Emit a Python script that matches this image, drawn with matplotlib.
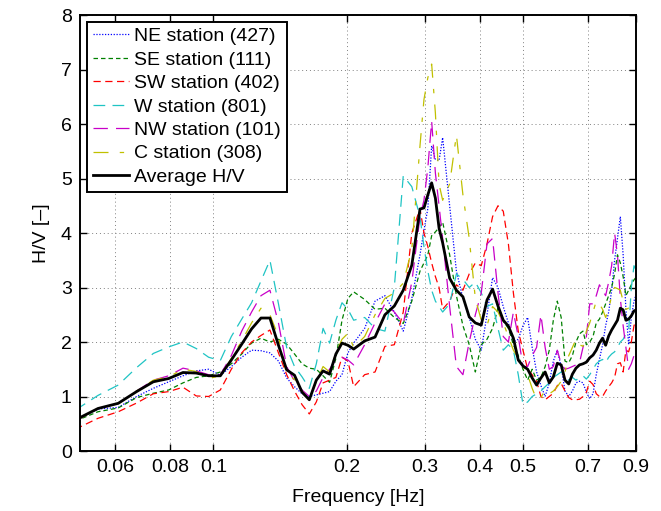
import matplotlib
matplotlib.use("Agg")
import matplotlib.pyplot as plt
from matplotlib.ticker import FixedLocator, NullLocator, FixedFormatter

plt.rcParams['font.family'] = ['Liberation Sans', 'DejaVu Sans']

# Frequency bins [Hz]
freq = [0.0488, 0.0549, 0.0610, 0.0671, 0.0732, 0.0793, 0.0854, 0.0915, 0.0976, 0.1037,
        0.1098, 0.1159, 0.1220, 0.1281, 0.1342, 0.1403, 0.1464, 0.1525, 0.1586, 0.1647,
        0.1708, 0.1769, 0.1830, 0.1891, 0.1952, 0.2013,
        0.2074, 0.2196, 0.2318, 0.2440, 0.2562, 0.2684, 0.2806, 0.2928,
        0.2989, 0.3050, 0.3111, 0.3172, 0.3233, 0.3294,
        0.3416, 0.3538, 0.3660, 0.3782, 0.3904, 0.4026, 0.4148, 0.4270, 0.4392, 0.4514,
        0.4636, 0.4758, 0.4880, 0.5002, 0.5124, 0.5246, 0.5368, 0.5490, 0.5612, 0.5734,
        0.5856, 0.5978, 0.6100, 0.6222, 0.6344, 0.6466, 0.6588, 0.6710, 0.6832, 0.6954,
        0.7076, 0.7198, 0.7320, 0.7442, 0.7564, 0.7686, 0.7808, 0.7930, 0.8052, 0.8174,
        0.8296, 0.8418, 0.8540, 0.8662, 0.8784, 0.8906, 0.9028]

ne = [0.55, 0.77, 0.80, 1.00, 1.15, 1.27, 1.38, 1.47, 1.50, 1.39,
      1.55, 1.72, 1.85, 1.84, 1.80, 1.65, 1.34, 1.18, 1.05, 1.00,
      1.03, 1.06, 1.09, 1.28, 1.40, 1.80,
      1.98, 2.25, 2.75, 2.85, 2.55, 2.20, 2.80, 3.60,
      4.05, 4.45, 5.60, 5.35, 5.33, 5.75,
      4.50, 3.30, 2.80, 2.45, 2.05, 1.85, 2.50, 3.18, 3.00, 2.65,
      2.35, 2.00, 2.05, 2.30, 2.45, 1.90, 1.45, 1.20, 1.00, 1.25,
      1.65, 1.85, 1.55, 1.10, 1.00, 1.10, 1.25, 1.28, 1.25, 1.08,
      0.96, 1.05, 1.40, 1.68, 1.95, 2.30, 2.55, 2.95, 3.50, 3.90,
      4.30, 3.60, 2.60, 1.95, 2.45, 2.75, 2.90]

se = [0.55, 0.72, 0.79, 0.98, 1.06, 1.12, 1.25, 1.35, 1.38, 1.45,
      1.60, 1.78, 1.98, 2.07, 2.00, 2.05, 1.96, 1.78, 1.60, 1.52,
      1.50, 1.38, 1.26, 1.70, 2.40, 2.80,
      2.92, 2.78, 2.60, 2.62, 2.45, 2.34, 2.75, 3.30,
      3.45, 3.60, 3.95, 4.02, 4.10, 4.20,
      3.60, 2.85, 2.30, 1.95, 1.45, 1.95, 2.05, 2.25, 2.62, 2.38,
      2.25, 1.95, 1.75, 1.50, 1.30, 1.50, 1.30, 1.35, 1.55, 1.85,
      2.40, 2.75, 2.45, 1.65, 1.62, 1.75, 2.00, 2.15, 2.20, 1.95,
      2.00, 2.10, 2.35, 2.42, 2.55, 2.70, 2.85, 3.00, 3.25, 3.60,
      3.45, 3.20, 2.85, 2.95, 3.05, 3.14, 3.20]

sw = [0.40, 0.60, 0.72, 0.88, 1.05, 1.09, 1.17, 1.01, 1.00, 1.12,
      1.50, 1.80, 2.00, 2.12, 2.22, 1.80, 1.40, 1.10, 0.85, 0.68,
      0.90, 1.25, 1.30, 1.35, 1.72, 1.65,
      1.18, 1.40, 1.45, 1.92, 1.95, 2.55, 4.00, 4.45,
      4.00, 3.75, 3.45, 3.20, 3.00, 2.60,
      2.75, 3.05, 2.95, 3.25, 3.45, 3.40, 3.80, 4.30, 4.50, 4.40,
      3.80, 2.90, 2.20, 1.85, 1.50, 1.40, 1.28, 1.00, 0.94, 1.00,
      1.06, 1.20, 1.24, 1.10, 0.98, 0.94, 0.94, 0.95, 1.00, 1.08,
      1.28, 1.22, 1.05, 1.00, 1.00, 1.10, 1.18, 1.25, 1.35, 1.60,
      1.62, 1.45, 1.85, 1.82, 2.00, 2.30, 2.40]

w = [0.75, 1.02, 1.21, 1.53, 1.79, 1.91, 2.00, 1.88, 1.72, 1.66,
     2.10, 2.42, 2.72, 3.12, 3.50, 2.70, 1.90, 1.55, 1.36, 1.15,
     1.60, 2.25, 1.98, 2.40, 2.72, 2.60,
     2.40, 2.45, 2.25, 2.20, 3.00, 5.05, 4.85, 4.30,
     3.75, 3.30, 2.95, 2.75, 2.65, 2.55,
     2.70, 3.25, 3.15, 3.00, 3.10, 2.90, 2.65, 2.70, 2.25, 1.85,
     1.95, 1.85, 1.40, 0.85, 0.90, 1.00, 1.05, 1.10, 1.18, 1.25,
     1.35, 1.40, 1.45, 1.40, 1.30, 1.35, 1.30, 1.35, 1.38, 1.32,
     1.40, 1.50, 1.60, 1.65, 1.68, 1.62, 1.72, 1.78, 1.82, 1.90,
     2.00, 2.05, 2.15, 2.20, 3.00, 3.40, 3.30]

nw = [0.55, 0.78, 0.87, 1.10, 1.30, 1.38, 1.52, 1.47, 1.40, 1.40,
      1.75, 2.20, 2.55, 2.85, 2.95, 2.35, 1.55, 1.28, 1.12, 1.00,
      1.10, 1.35, 1.50, 1.68, 1.72, 1.67,
      1.58, 1.95, 2.35, 2.70, 2.55, 2.34, 3.10, 4.30,
      4.60, 5.20, 6.05, 5.10, 4.50, 3.90,
      2.65, 1.55, 1.40, 2.00, 2.50, 2.90, 3.80, 3.90, 2.90, 2.10,
      2.00, 2.55, 2.10, 1.55, 1.55, 1.75, 1.90, 2.50, 1.90, 1.50,
      1.55, 1.85, 1.60, 1.50, 1.52, 1.55, 1.58, 1.62, 1.90, 2.10,
      2.70, 2.70, 2.85, 3.05, 2.95, 2.85, 3.10, 3.40, 4.00, 3.60,
      2.80, 2.30, 1.90, 1.50, 1.60, 1.75, 1.90]

c = [0.55, 0.78, 0.87, 1.10, 1.30, 1.36, 1.50, 1.46, 1.33, 1.38,
     1.70, 2.02, 2.35, 2.62, 2.50, 2.10, 1.40, 1.32, 1.10, 0.94,
     1.28, 1.55, 1.45, 1.80, 2.05, 2.16,
     1.90, 2.10, 2.50, 2.80, 2.90, 3.08, 3.70, 5.60,
     6.45, 6.85, 7.10, 6.20, 4.90, 4.60,
     4.90, 5.80, 4.70, 3.90, 2.80, 2.40, 2.30, 2.65, 2.55, 2.35,
     2.10, 1.85, 1.70, 1.55, 1.40, 1.15, 0.95, 0.98, 1.12, 1.05,
     1.10, 1.18, 1.28, 1.45, 1.75, 1.90, 2.05, 1.95, 1.92, 2.20,
     2.35, 2.55, 2.75, 2.70, 2.60, 2.45, 2.60, 2.85, 3.00, 2.98,
     2.95, 2.75, 2.60, 2.62, 2.55, 2.55, 2.50]

avg = [0.57, 0.78, 0.875, 1.09, 1.27, 1.33, 1.44, 1.43, 1.38, 1.38,
       1.67, 1.96, 2.24, 2.44, 2.44, 1.94, 1.49, 1.39, 1.08, 0.94,
       1.30, 1.47, 1.41, 1.78, 1.98, 1.94,
       1.87, 2.02, 2.09, 2.50, 2.66, 2.95, 3.41, 4.44,
       4.46, 4.70, 4.92, 4.64, 4.09, 3.82,
       3.17, 2.95, 2.83, 2.46, 2.35, 2.31, 2.77, 2.97, 2.66, 2.40,
       2.29, 2.07, 1.67, 1.56, 1.50, 1.34, 1.21, 1.34, 1.45, 1.25,
       1.36, 1.61, 1.58, 1.30, 1.23, 1.41, 1.52, 1.58, 1.60, 1.63,
       1.71, 1.76, 1.85, 1.98, 2.07, 1.94, 2.11, 2.22, 2.31, 2.40,
       2.62, 2.59, 2.40, 2.42, 2.48, 2.57, 2.59]

labels = ['NE station (427)', 'SE station (111)', 'SW station (402)',
          'W station (801)', 'NW station (101)', 'C station (308)', 'Average H/V']
xticks = [0.06, 0.08, 0.1, 0.2, 0.3, 0.4, 0.5, 0.7, 0.9]
xticklabels = ['0.06', '0.08', '0.1', '0.2', '0.3', '0.4', '0.5', '0.7', '0.9']

FS = 14

fig = plt.figure(figsize=(6.61, 5.11), dpi=100)
ax = fig.add_axes([80/661, 1-451/511, (636-80)/661, (451-15)/511])

styles = [
    (ne, '#0000ff', (1.0, 1.3)),
    (se, '#008000', (3.6, 2.4)),
    (sw, '#ff0000', (5.8, 3.6)),
    (w, '#1fc4c4', (9.4, 5.8)),
    (nw, '#c800c8', (11.5, 6.5)),
    (c, '#c0c000', (12.0, 9.0, 3.5, 9.0)),
]
for (vals, col, dash), lab in zip(styles, labels[:6]):
    ax.plot(freq, vals, color=col, lw=0.9, dashes=dash, label=lab)
ax.plot(freq, avg, color='black', lw=2.0, label=labels[6])

ax.set_xscale('log')
ax.set_xlim(0.05, 0.9)
ax.set_ylim(0, 8)
ax.xaxis.set_major_locator(FixedLocator(xticks))
ax.xaxis.set_major_formatter(FixedFormatter(xticklabels))
ax.xaxis.set_minor_locator(NullLocator())
ax.set_yticks(range(0, 9))
ax.grid(True, color='#808080', lw=0.7, dashes=(1, 3))
ax.tick_params(direction='in', top=True, right=True, length=5, width=1, labelsize=FS, pad=6)
for s in ax.spines.values():
    s.set_linewidth(1.4)

ax.set_xlabel('Frequency [Hz]', fontsize=FS, labelpad=9)
ax.set_ylabel('H/V [\u2013]', fontsize=FS, labelpad=8)

leg = ax.legend(loc='upper left', fontsize=FS, frameon=True, fancybox=False,
                edgecolor='black', framealpha=1, borderaxespad=0.35,
                handlelength=1.85, handletextpad=0.3, labelspacing=0.3, borderpad=0.3)
leg.get_frame().set_linewidth(1.4)

fig.savefig('out.png', dpi=100)
